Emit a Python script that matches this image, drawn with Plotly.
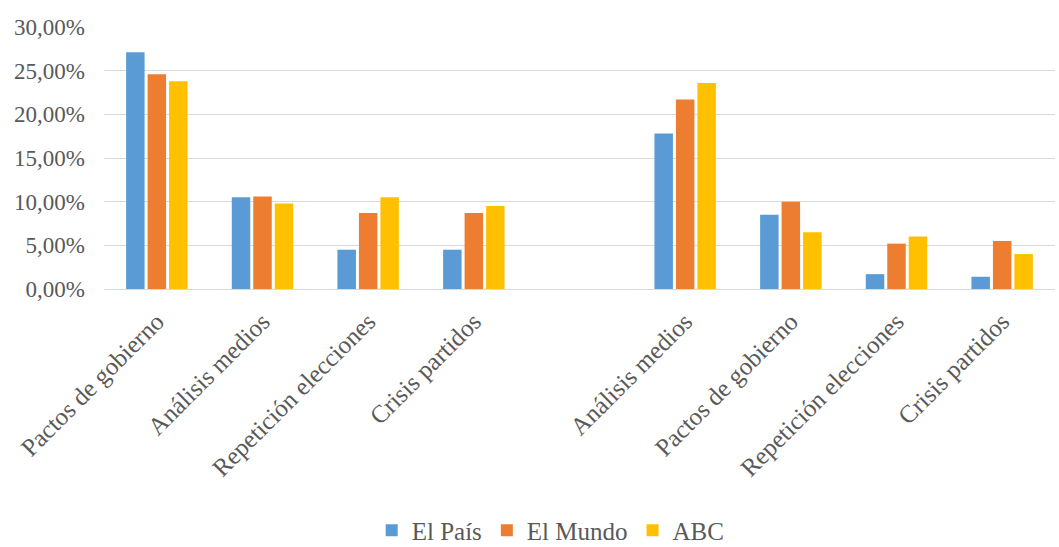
import plotly.graph_objects as go

# Topics per slot; the blank slot separates the two blocks of topics
categories = [
    "Pactos de gobierno", "Análisis medios", "Repetición elecciones", "Crisis partidos",
    "",
    "Análisis medios", "Pactos de gobierno", "Repetición elecciones", "Crisis partidos",
]
el_pais = [27.1, 10.5, 4.5, 4.5, None, 17.8, 8.5, 1.7, 1.4]
el_mundo = [24.6, 10.6, 8.7, 8.7, None, 21.7, 10.0, 5.2, 5.5]
abc = [23.8, 9.8, 10.5, 9.5, None, 23.6, 6.5, 6.0, 4.0]

series = [
    ("El País", el_pais, "#5b9bd5"),
    ("El Mundo", el_mundo, "#ed7d31"),
    ("ABC", abc, "#ffc000"),
]

y_ticks = [0, 5, 10, 15, 20, 25, 30]
y_tick_labels = ["0,00%", "5,00%", "10,00%", "15,00%", "20,00%", "25,00%", "30,00%"]

positions = list(range(len(categories)))
font_family = "Liberation Serif, Times New Roman, serif"
text_color = "#595959"

fig = go.Figure()
for name, values, color in series:
    fig.add_trace(go.Bar(
        x=positions,
        y=values,
        name=name,
        marker=dict(color=color, line=dict(width=0)),
    ))

fig.update_layout(
    width=1059,
    height=547,
    margin=dict(l=104, r=4, t=27, b=258),
    paper_bgcolor="white",
    plot_bgcolor="white",
    barmode="group",
    bargap=0.39,
    bargroupgap=0.14,
    font=dict(family=font_family, size=23, color=text_color),
    showlegend=True,
    legend=dict(
        orientation="h",
        x=0.52,
        xanchor="center",
        xref="container",
        y=0.03,
        yref="container",
        yanchor="middle",
        font=dict(size=25, color=text_color),
        itemsizing="constant",
    ),
    xaxis=dict(
        tickmode="array",
        tickvals=positions,
        ticktext=categories,
        tickangle=-45,
        range=[-0.5, len(categories) - 0.5],
        showgrid=False,
        showline=False,
        zeroline=False,
        ticks="",
        ticklabelstandoff=12,
        tickfont=dict(size=25, color=text_color),
    ),
    yaxis=dict(
        range=[0, 30],
        tickmode="array",
        tickvals=y_ticks,
        ticktext=y_tick_labels,
        showgrid=True,
        gridcolor="#d9d9d9",
        gridwidth=1.3,
        zeroline=True,
        zerolinecolor="#d9d9d9",
        zerolinewidth=1.3,
        showline=False,
        ticks="",
        ticklabelstandoff=18,
        tickfont=dict(size=23, color=text_color),
    ),
)

fig.write_html("out.html")
